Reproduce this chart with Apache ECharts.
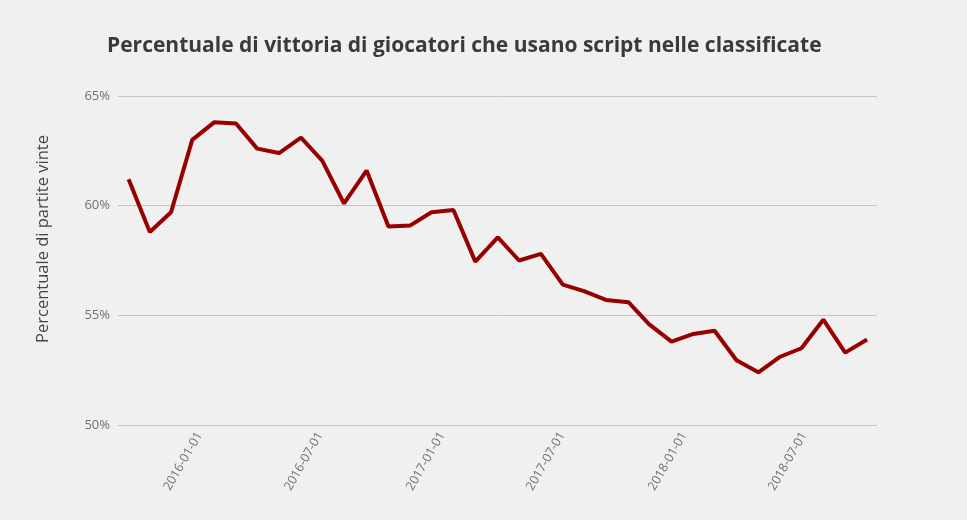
<!DOCTYPE html>
<html>
<head>
<meta charset="utf-8">
<script src="https://cdn.jsdelivr.net/npm/echarts@6/dist/echarts.min.js"></script>
<style>
html,body{margin:0;padding:0;background:#f0f0f0;}
#c{width:967px;height:520px;}
</style>
</head>
<body>
<div id="c"></div>
<script>
var dates = ['2015-09-16','2015-10-18','2015-11-19','2015-12-21','2016-01-23','2016-02-25','2016-03-28','2016-04-30','2016-06-02','2016-07-04','2016-08-06','2016-09-09','2016-10-12','2016-11-14','2016-12-16','2017-01-18','2017-02-20','2017-03-26','2017-04-27','2017-05-30','2017-07-02','2017-08-03','2017-09-05','2017-10-09','2017-11-09','2017-12-13','2018-01-15','2018-02-16','2018-03-21','2018-04-23','2018-05-25','2018-06-27','2018-07-30','2018-09-01','2018-10-04'];
var winRate = [61.2,58.8,59.7,63.0,63.8,63.75,62.6,62.4,63.1,62.05,60.1,61.6,59.05,59.1,59.7,59.8,57.45,58.55,57.5,57.8,56.4,56.1,55.7,55.6,54.6,53.8,54.15,54.3,52.95,52.4,53.1,53.5,54.8,53.3,53.9];
var xTickLabels = ['2016-01-01','2016-07-01','2017-01-01','2017-07-01','2018-01-01','2018-07-01'];
var yTicks = {min:50, max:65, interval:5};

var chart = echarts.init(document.getElementById('c'));
var data = dates.map(function(d,i){return [d, winRate[i]];});
chart.setOption({
  backgroundColor:'#f0f0f0',
  animation:false,
  title:{
    text:'Percentuale di vittoria di giocatori che usano script nelle classificate',
    left:102, top:31,
    textStyle:{fontFamily:'Open Sans', fontSize:21, fontWeight:'bold', color:'#3a3a3a'}
  },
  grid:{left:118, right:90, top:96, bottom:95, containLabel:false},
  xAxis:{
    type:'time',
    min:'2015-08-31', max:'2018-10-19',
    axisLine:{show:false},
    axisTick:{show:false},
    splitLine:{show:false},
    axisLabel:{
      customValues: xTickLabels.map(function(s){return echarts.time.parse(s).getTime();}),
      formatter:'{yyyy}-{MM}-{dd}',
      rotate:60,
      margin:8,
      color:'#707070',
      fontFamily:'Open Sans',
      fontSize:12.5
    }
  },
  yAxis:{
    type:'value',
    min:yTicks.min, max:yTicks.max, interval:yTicks.interval,
    axisLine:{show:false},
    axisTick:{show:false},
    splitLine:{lineStyle:{color:'#c4c4c4', width:1}},
    axisLabel:{formatter:'{value}%', color:'#707070', fontFamily:'Open Sans', fontSize:13, margin:8}
  },
  graphic:[{
    type:'text', x:43, y:239, rotation:Math.PI/2,
    style:{text:'Percentuale di partite vinte', fill:'#444', font:'16.5px "Open Sans"', textAlign:'center', textVerticalAlign:'middle'}
  }],
  series:[{
    type:'line',
    data:data,
    showSymbol:false,
    lineStyle:{color:'#980000', width:4},
    itemStyle:{color:'#980000'}
  }]
});
</script>
</body>
</html>
